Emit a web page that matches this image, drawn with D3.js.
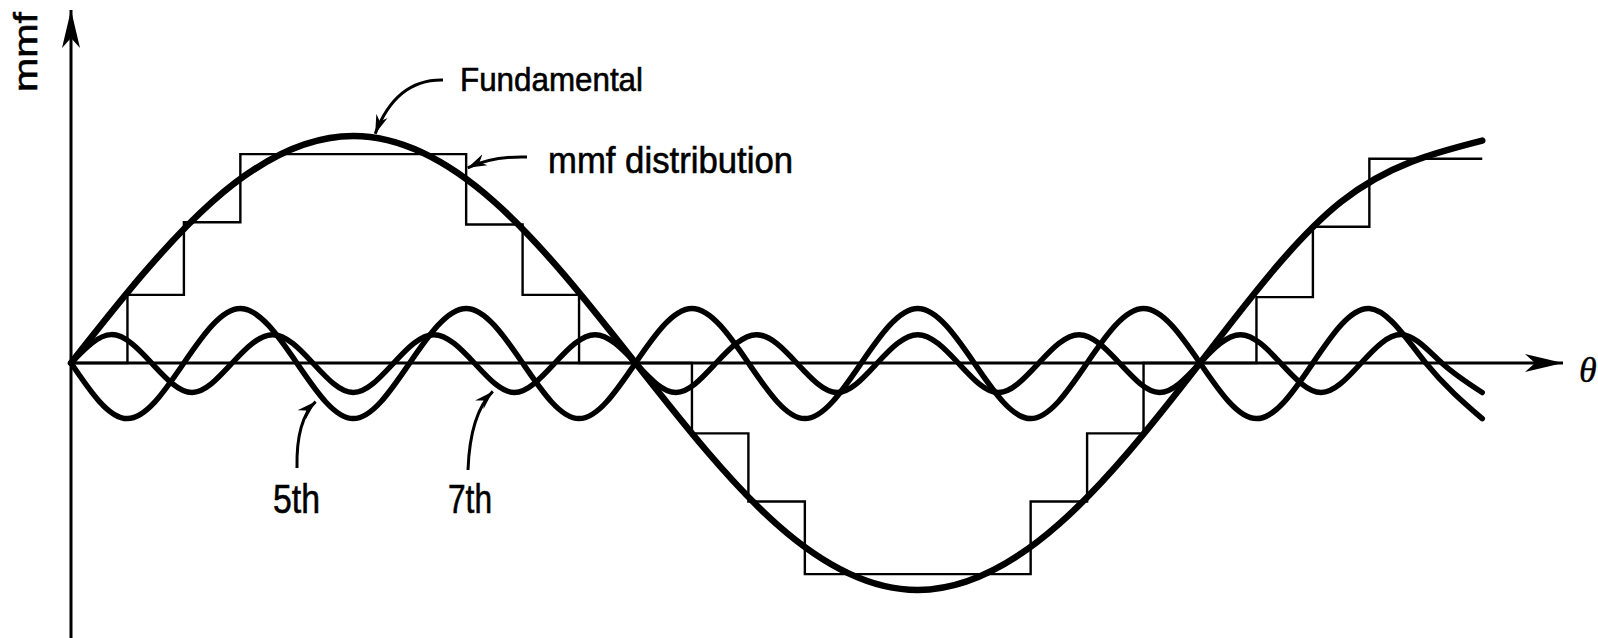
<!DOCTYPE html>
<html>
<head>
<meta charset="utf-8">
<script src="https://cdn.jsdelivr.net/npm/d3@7"></script>
<style>
  body { margin: 0; background: #fff; }
  svg { display: block; }
  .label { font-family: "Liberation Sans", Arial, sans-serif; fill: #000; stroke: #000; stroke-width: 0.6; }
  .theta { font-family: "Liberation Serif", "Times New Roman", serif; font-style: italic; fill: #000; stroke: #000; stroke-width: 0.4; }
</style>
</head>
<body>
<svg id="chart" width="1598" height="638"></svg>
<script>
// electrical angle in degrees, mmf in per unit of the fundamental peak
const fundTheta = [0, 45, 90, 135, 180, 225, 270, 315, 360, 405, 450];
const fundMmf   = [0, 0.71, 1.0, 0.71, 0, -0.71, -1.0, -0.71, 0, 0.71, 0.98];

// stepped mmf distribution (value holds until the next angle)
const stepTheta = [0, 18, 36, 54, 126, 144, 162, 198, 216, 234, 306, 324, 342, 378, 396, 414, 450];
const stepMmf   = [0, 0.30, 0.62, 0.92, 0.61, 0.30, 0, -0.31, -0.61, -0.93, -0.61, -0.31, 0, 0.29, 0.60, 0.90, 0.90];

// 5th harmonic, read at its crossings and peaks
const fifthTheta = [0, 18, 36, 54, 72, 90, 108, 126, 144, 162, 180, 198, 216, 234, 252,
                    270, 288, 306, 324, 342, 360, 378, 396, 414, 432, 450];
const fifthMmf   = [0, -0.245, 0, 0.24, 0, -0.245, 0, 0.24, 0, -0.245, 0, 0.24, 0, -0.245, 0,
                    0.24, 0, -0.245, 0, 0.24, 0, -0.245, 0, 0.24, 0, -0.245];

// 7th harmonic, read at its crossings and peaks
const seventhTheta = [0, 12.9, 25.7, 38.6, 51.4, 64.3, 77.1, 90, 102.9, 115.7, 128.6, 141.4,
                      154.3, 167.1, 180, 192.9, 205.7, 218.6, 231.4, 244.3, 257.1, 270, 282.9, 295.7,
                      308.6, 321.4, 334.3, 347.1, 360, 372.9, 385.7, 398.6, 411.4, 424.3, 437.1, 450];
const seventhMmf   = [0, 0.125, 0, -0.13, 0, 0.125, 0, -0.13, 0, 0.125, 0, -0.13,
                      0, 0.125, 0, -0.13, 0, 0.125, 0, -0.13, 0, 0.125, 0, -0.13,
                      0, 0.125, 0, -0.13, 0, 0.125, 0, -0.13, 0, 0.125, 0, -0.13];

const labels = ['Fundamental', 'mmf distribution', '5th', '7th'];

const svg = d3.select('#chart');

// scales
const x = d3.scaleLinear().domain([0, 360]).range([71, 1200]);
const y = d3.scaleLinear().domain([-1, 1]).range([590, 136]);

const zip = (ts, vs) => ts.map((t, i) => [t, vs[i]]);

// arrow heads
const defs = svg.append('defs');
defs.append('marker')
  .attr('id', 'head')
  .attr('viewBox', '-19 -7 20 14')
  .attr('markerUnits', 'userSpaceOnUse')
  .attr('markerWidth', 20)
  .attr('markerHeight', 14)
  .attr('refX', 0)
  .attr('refY', 0)
  .attr('orient', 'auto')
  .append('path')
    .attr('d', 'M0,0 L-19,-6 L-13,0 L-19,6 Z')
    .attr('fill', '#000');

defs.append('marker')
  .attr('id', 'axisHead')
  .attr('viewBox', '-40 -10 41 20')
  .attr('markerUnits', 'userSpaceOnUse')
  .attr('markerWidth', 41)
  .attr('markerHeight', 20)
  .attr('refX', 0)
  .attr('refY', 0)
  .attr('orient', 'auto')
  .append('path')
    .attr('d', 'M0,0 L-38,-9 L-28,0 L-38,9 Z')
    .attr('fill', '#000');

// staircase mmf distribution
const stepLine = d3.line()
  .x(d => x(d[0]))
  .y(d => y(d[1]))
  .curve(d3.curveStepAfter);

svg.append('path')
  .datum(zip(stepTheta, stepMmf))
  .attr('d', stepLine)
  .attr('fill', 'none')
  .attr('stroke', '#000')
  .attr('stroke-width', 2.4);

// axes
svg.append('line')
  .attr('x1', x(0)).attr('y1', 638)
  .attr('x2', x(0)).attr('y2', 10)
  .attr('stroke', '#000')
  .attr('stroke-width', 3)
  .attr('marker-end', 'url(#axisHead)');

svg.append('line')
  .attr('x1', x(0)).attr('y1', y(0))
  .attr('x2', 1563).attr('y2', y(0))
  .attr('stroke', '#000')
  .attr('stroke-width', 3)
  .attr('marker-end', 'url(#axisHead)');

// smooth waves
const wave = d3.line()
  .x(d => x(d[0]))
  .y(d => y(d[1]))
  .curve(d3.curveNatural);

const series = [
  {data: zip(fundTheta, fundMmf), width: 6.5},
  {data: zip(fifthTheta, fifthMmf), width: 5.5},
  {data: zip(seventhTheta, seventhMmf), width: 5.5}
];

svg.selectAll('.wave')
  .data(series)
  .enter().append('path')
    .attr('class', 'wave')
    .attr('d', d => wave(d.data))
    .attr('fill', 'none')
    .attr('stroke', '#000')
    .attr('stroke-width', d => d.width)
    .attr('stroke-linecap', 'round')
    .attr('stroke-linejoin', 'round');

// callouts: tip in data units, leader start / control and text in pixels
const notes = [
  {tip: [97, 1.01], from: [443, 80], ctrl: [396, 79], tx: 460, ty: 91, size: 33, len: 183},
  {tip: [126.5, 0.86], from: [527, 157], ctrl: [493, 156], tx: 548, ty: 173, size: 36, len: 245},
  {tip: [78, -0.17], from: [297, 468], ctrl: [296, 420], tx: 273, ty: 513, size: 40, len: 47},
  {tip: [134.5, -0.125], from: [468, 470], ctrl: [470, 414], tx: 448, ty: 513, size: 40, len: 44}
];

notes.forEach((n, i) => {
  const p = d3.path();
  p.moveTo(n.from[0], n.from[1]);
  p.quadraticCurveTo(n.ctrl[0], n.ctrl[1], x(n.tip[0]), y(n.tip[1]));
  svg.append('path')
    .attr('d', p.toString())
    .attr('fill', 'none')
    .attr('stroke', '#000')
    .attr('stroke-width', 3)
    .attr('marker-end', 'url(#head)');

  svg.append('text')
    .attr('class', 'label')
    .attr('x', n.tx)
    .attr('y', n.ty)
    .attr('font-size', n.size)
    .attr('textLength', n.len)
    .attr('lengthAdjust', 'spacingAndGlyphs')
    .text(labels[i]);
});

// axis titles
svg.append('text')
  .attr('class', 'label')
  .attr('transform', 'translate(37,52) rotate(-90)')
  .attr('text-anchor', 'middle')
  .attr('font-size', 33)
  .attr('textLength', 80)
  .attr('lengthAdjust', 'spacingAndGlyphs')
  .text('mmf');

svg.append('text')
  .attr('class', 'theta')
  .attr('x', 1579)
  .attr('y', 382)
  .attr('font-size', 36)
  .text('θ');
</script>
</body>
</html>
